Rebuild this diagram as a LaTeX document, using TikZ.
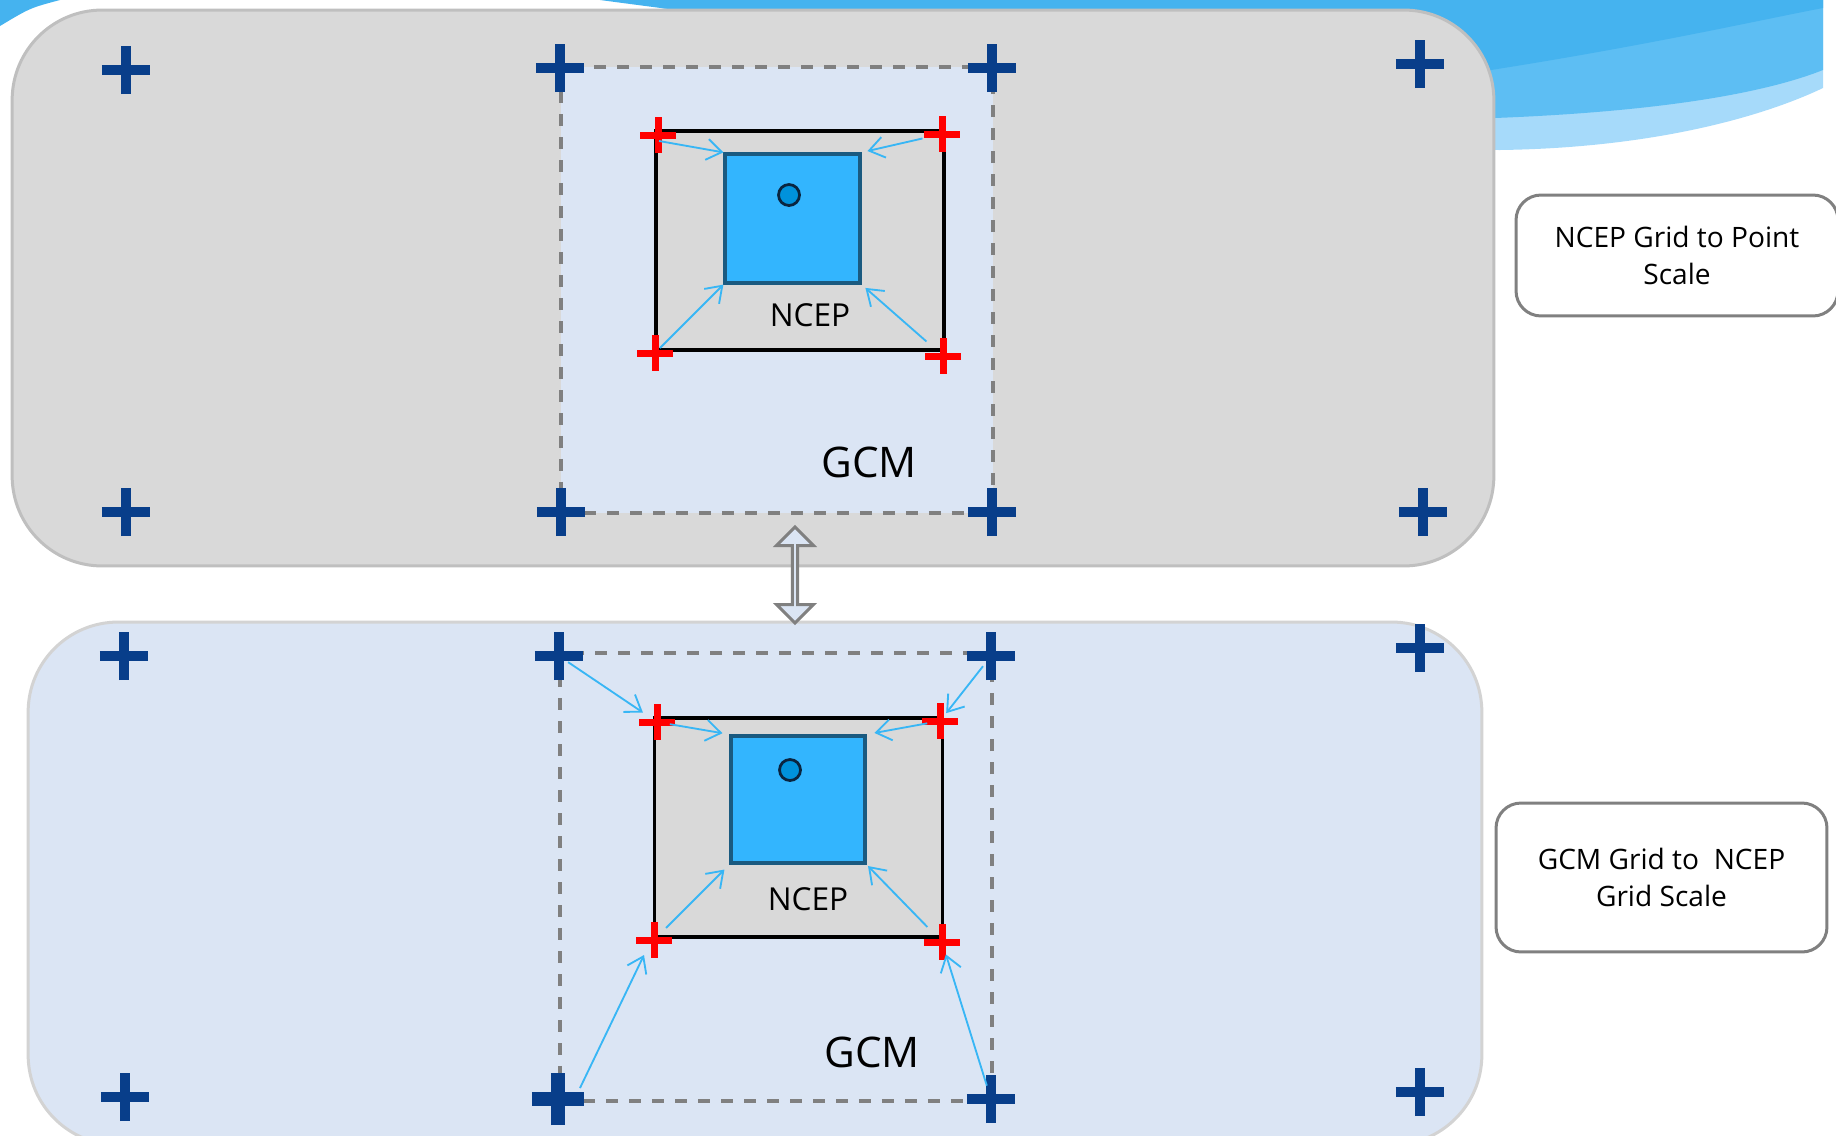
\documentclass[tikz,border=0pt]{standalone}
\usepackage{fontspec}
\setmainfont{Open Sans}
\usepackage{tikz}
\usetikzlibrary{arrows.meta, shapes.misc, shapes.arrows, calc, positioning}

\definecolor{panelgray}{HTML}{D9D9D9}
\definecolor{panelgrayline}{HTML}{BFBFBF}
\definecolor{panelblue}{HTML}{DBE5F4}
\definecolor{panelblueline}{HTML}{D3D3D3}
\definecolor{dashgray}{HTML}{808080}
\definecolor{cellblue}{HTML}{33B5FE}
\definecolor{celledge}{HTML}{1A5A80}
\definecolor{siteblue}{HTML}{0092DC}
\definecolor{siteedge}{HTML}{0A2540}
\definecolor{crossblue}{HTML}{083E8A}
\definecolor{interpcyan}{HTML}{38B6F5}
\definecolor{swooshdark}{HTML}{45B3EF}
\definecolor{swooshmid}{HTML}{5DBEF3}
\definecolor{swooshlight}{HTML}{A6DAFA}

\begin{document}
\begin{tikzpicture}[x=0.02cm, y=-0.02cm,
  gridpt/.style={cross out, draw=crossblue, line width=0.2cm, rotate=45, inner sep=0, outer sep=0, minimum size=0.68cm},
  ncpt/.style={cross out, draw=red, line width=0.14cm, rotate=45, inner sep=0, outer sep=0, minimum size=0.5cm},
  interp/.style={draw=interpcyan, line width=1.05pt, -{Straight Barb[length=0.3cm, width=0.42cm]}},
  gcmframe/.style={draw=dashgray, line width=0.07cm, dash pattern=on 0.24cm off 0.22cm, minimum width=8.64cm},
  ncepbox/.style={draw=black, fill=panelgray, line width=0.065cm, minimum width=5.76cm, minimum height=4.38cm},
  cellbox/.style={draw=celledge, fill=cellblue, line width=0.065cm},
  site/.style={circle, draw=siteedge, fill=siteblue, line width=0.055cm, inner sep=0, minimum size=0.42cm},
  note/.style={draw=dashgray, fill=white, line width=0.06cm, rounded corners=0.5cm, align=center, font=\fontsize{16}{21}\selectfont}]

\useasboundingbox (0,0) rectangle (1836,1136);
\clip (0,0) rectangle (1836,1136);

% slide background
\fill[swooshlight] (630,0) .. controls (900,70) and (1250,150) .. (1500,150) .. controls (1650,148) and (1760,118) .. (1823,88) -- (1823,0) -- cycle;
\fill[swooshmid] (630,0) .. controls (900,60) and (1250,125) .. (1495,118) .. controls (1650,112) and (1760,95) .. (1823,70) -- (1823,0) -- cycle;
\fill[swooshdark] (600,0) .. controls (900,40) and (1250,80) .. (1491,70) .. controls (1650,45) and (1760,20) .. (1823,8) -- (1823,0) -- cycle;
\fill[swooshdark] (0,0) -- (60,0) .. controls (30,8) .. (0,26) -- cycle;

\node[draw=panelgrayline, fill=panelgray, line width=0.06cm, rounded corners=1.8cm, minimum width=29.64cm, minimum height=11.12cm] (top_panel) at (753,288) {};
\node[draw=panelblueline, fill=panelblue, line width=0.06cm, rounded corners=1.8cm, minimum width=29.08cm, minimum height=10.46cm] (bot_panel) at (755,883.5) {};

%% NCEP grid to point
\node[gcmframe, fill=panelblue, minimum height=8.92cm] (top_gcm) at (777,290) {};
\node[font=\fontsize{24}{28}\selectfont] (top_gcm_lbl) at (869,462) {GCM};
\node[ncepbox] (top_ncep) at (800,240.5) {};
\node[cellbox, minimum width=2.7cm, minimum height=2.58cm] (top_cell) at (792.5,218.5) {};
\node[site] (top_site) at (789,195) {};
\node[font=\fontsize{18}{22}\selectfont] (top_ncep_lbl) at (810,315) {NCEP};

\node[gridpt] (top_g1) at (126,70) {};
\node[gridpt] (top_g2) at (560,68) {};
\node[gridpt] (top_g3) at (992,68) {};
\node[gridpt] (top_g4) at (1420,64) {};
\node[gridpt] (top_g5) at (126,512) {};
\node[gridpt] (top_g6) at (561,512) {};
\node[gridpt] (top_g7) at (992,512) {};
\node[gridpt] (top_g8) at (1423,512) {};

\node[ncpt] (top_r1) at (658,135) {};
\node[ncpt] (top_r2) at (942,134) {};
\node[ncpt] (top_r3) at (655,353) {};
\node[ncpt] (top_r4) at (943,356) {};

\draw[interp] ($(top_r1.center)+(1,6)$) -- (top_cell.north west);
\draw[interp, shorten <=0.4cm, shorten >=0.12cm] (top_r2.center) -- (top_cell.north east);
\draw[interp, shorten <=0.14cm] (top_r3.center) -- (top_cell.south west);
\draw[interp, shorten <=0.44cm, shorten >=0.1cm] (top_r4.center) -- (top_cell.south east);

%% GCM grid to NCEP grid
\node[gcmframe, minimum height=8.96cm] (bot_gcm) at (776,877) {};
\node[font=\fontsize{24}{28}\selectfont] (bot_gcm_lbl) at (872,1052) {GCM};
\node[ncepbox] (bot_ncep) at (798.5,827.5) {};
\node[cellbox, minimum width=2.68cm, minimum height=2.54cm] (bot_cell) at (798,799.5) {};
\node[site] (bot_site) at (790,770) {};
\node[font=\fontsize{18}{22}\selectfont] (bot_ncep_lbl) at (808,899) {NCEP};

\node[gridpt] (bot_g1) at (124,656) {};
\node[gridpt] (bot_g2) at (559,656) {};
\node[gridpt] (bot_g3) at (991,656) {};
\node[gridpt] (bot_g4) at (1420,648) {};
\node[gridpt] (bot_g5) at (125,1097) {};
\node[gridpt, line width=0.28cm, minimum size=0.74cm] (bot_g6) at (558,1099) {};
\node[gridpt] (bot_g7) at (991,1099) {};
\node[gridpt] (bot_g8) at (1420,1092) {};

\node[ncpt] (bot_r1) at (657,722) {};
\node[ncpt] (bot_r2) at (940,721) {};
\node[ncpt] (bot_r3) at (654,940) {};
\node[ncpt] (bot_r4) at (942,942) {};

\draw[interp, shorten <=0.22cm, shorten >=0.34cm] (bot_g2.center) -- (bot_r1.center);
\draw[interp, shorten <=0.26cm, shorten >=0.2cm] (bot_g3.center) -- (bot_r2.center);
\draw[interp] ($(bot_g6.center)+(22,-11)$) -- ($(bot_r3.center)+(-10,15)$);
\draw[interp, shorten <=0.28cm, shorten >=0.26cm] (bot_g7.center) -- (bot_r4.center);

\draw[interp, shorten <=0.26cm, shorten >=0.14cm] (bot_r1.center) -- (bot_cell.north west);
\draw[interp, shorten <=0.26cm, shorten >=0.16cm] (bot_r2.center) -- (bot_cell.north east);
\draw[interp, shorten <=0.34cm, shorten >=0.14cm] (bot_r3.center) -- (bot_cell.south west);
\draw[interp, shorten <=0.42cm, shorten >=0.04cm] (bot_r4.center) -- (bot_cell.south east);

% link between the two scales
\node[double arrow, draw=dashgray, fill=panelblue, line width=0.06cm, rotate=90, inner sep=0, minimum height=1.92cm, minimum width=0.74cm, double arrow head extend=0.19cm] (scale_link) at (795,575) {};

\node[note, minimum width=6.44cm, minimum height=2.42cm] (note_top) at (1677,255.5) {NCEP Grid to Point\\Scale};
\node[note, minimum width=6.62cm, minimum height=2.98cm] (note_bot) at (1661.5,877.5) {GCM Grid to~ NCEP\\Grid Scale};

\end{tikzpicture}
\end{document}
